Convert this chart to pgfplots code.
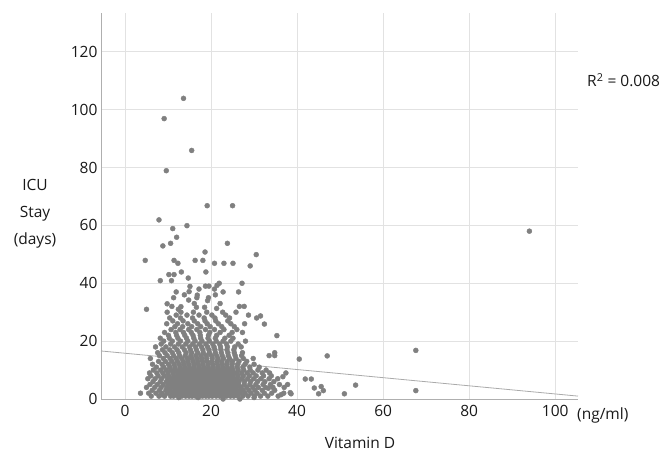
\documentclass[border=0pt]{standalone}
\usepackage{fontspec}
\setmainfont{Open Sans}
\usepackage{pgfplots}
\pgfplotsset{compat=1.18}
\definecolor{ptc}{RGB}{128,128,128}
\definecolor{gridc}{RGB}{226,226,226}
\definecolor{axc}{RGB}{175,175,175}
\definecolor{lnc}{RGB}{170,170,170}
\begin{document}
\begin{tikzpicture}[x=1pt,y=1pt]
\path[use as bounding box] (0,0) rectangle (668,452);
\begin{axis}[
  at={(101pt,53pt)}, anchor=south west,
  scale only axis, width=477pt, height=386pt,
  xmin=-5.58, xmax=105.3, ymin=0, ymax=133.4,
  axis x line*=bottom, axis y line*=left,
  axis line style={-, axc, line width=0.9pt},
  xtick={0,20,...,100}, ytick={0,20,...,120},
  major tick length=0pt,
  grid=major, major grid style={gridc, line width=0.9pt},
  tick label style={font=\fontsize{15.5}{18}\selectfont, text=black!90},
  /pgf/number format/assume math mode=true,
  xticklabel style={yshift=-3pt},
  clip=false,
]
\addplot[lnc, line width=0.8pt, no marks] coordinates {(-5.58,16.6) (105.3,1.0)};
\addplot[only marks, color=ptc, mark=*, mark size=2.5pt, mark options={draw=none, fill=ptc}] coordinates {
(6.1,1) (7.9,1) (9.2,1) (10.6,1) (11.3,1) (12.4,1) (13.2,1) (14.1,1) (14.9,1) (15.6,1) (16.4,1) (17.3,1) (18.0,1) (18.8,1) (19.5,1) (20.3,1) (21.2,1) (22.0,1) (22.9,1) (23.6,1) (24.5,1) (25.3,1) (26.2,1) (27.4,1) (28.6,1) (30.1,1) (31.5,1) (33.2,1) (35.6,1) (38.6,1.8)
(5.5,2) (7.2,2) (8.6,2) (9.8,2) (10.9,2) (11.8,2) (12.7,2) (13.5,2) (14.3,2) (15.2,2) (16.0,2) (16.9,2) (17.7,2) (18.5,2) (19.3,2) (20.1,2) (20.9,2) (21.7,2) (22.6,2) (23.4,2) (24.2,2) (25.1,2) (26.0,2) (26.8,2) (27.9,2) (29.3,2) (30.7,2) (32.4,2) (34.1,2) (36.9,2) (38.4,2.2) (45.0,1.8) (51.0,1.8) (3.6,2)
(6.3,3) (8.0,3) (9.5,3) (10.4,3) (11.5,3) (12.3,3) (13.0,3) (13.9,3) (14.7,3) (15.5,3) (16.3,3) (17.1,3) (18.2,3) (19.0,3) (19.9,3) (20.7,3) (21.4,3) (22.3,3) (23.2,3) (24.0,3) (24.9,3) (25.8,3) (26.6,3) (27.5,3) (28.8,3) (30.2,3) (31.9,3) (33.3,3.7) (34.8,3) (46.1,2.9) (67.6,2.9)
(5.0,4) (6.9,4) (8.4,4) (9.7,4) (10.8,4) (11.6,4) (12.5,4) (13.4,4) (14.2,4) (15.0,4) (15.8,4) (16.6,4) (17.5,4) (18.3,4) (19.2,4) (20.0,4) (20.8,4) (21.6,4) (22.5,4) (23.3,4) (24.1,4) (25.0,4) (25.9,4) (27.0,4) (28.3,4) (29.7,4) (31.0,4) (32.7,4) (34.4,4) (37.0,4) (44.0,3.8) (45.6,4.3)
(5.8,5) (7.5,5) (8.9,5) (10.1,5) (11.1,5) (12.1,5) (12.8,5) (13.7,5) (14.5,5) (15.4,5) (16.2,5) (17.0,5) (17.8,5) (18.6,5) (19.6,5) (20.4,5) (21.3,5) (22.1,5) (23.0,5) (23.8,5) (24.7,5) (25.5,5) (26.4,5) (27.7,5) (29.0,5) (30.4,5) (32.1,5) (33.8,5) (35.9,5) (37.8,5) (53.6,4.8)
(6.5,6) (8.2,6) (9.6,6) (10.5,6) (11.4,6) (12.2,6) (13.1,6) (14.0,6) (14.8,6) (15.7,6) (16.5,6) (17.2,6) (18.1,6) (18.9,6) (19.7,6) (20.5,6) (21.3,6) (22.2,6) (23.1,6) (23.9,6) (24.8,6) (25.6,6) (26.5,6) (27.8,6) (29.2,6) (30.8,6) (32.5,6) (34.6,6) (36.7,7.7)
(5.3,7) (7.0,7) (8.5,7) (9.9,7) (11.0,7) (12.0,7) (12.9,7) (13.8,7) (14.6,7) (15.3,7) (16.1,7) (17.0,7) (17.9,7) (18.7,7) (19.4,7) (20.2,7) (21.0,7) (21.9,7) (22.7,7) (23.5,7) (24.4,7) (25.2,7) (26.1,7) (27.2,7) (28.5,7) (29.9,7) (31.6,7) (33.5,7) (35.5,7) (41.9,6.9) (43.3,6.9)
(6.0,8) (7.7,8) (9.1,8) (10.2,8) (11.3,8) (12.3,8) (13.3,8) (14.2,8) (15.1,8) (15.9,8) (16.8,8) (17.6,8) (18.4,8) (19.2,8) (20.0,8) (20.9,8) (21.8,8) (22.6,8) (23.5,8) (24.3,8) (25.2,8) (26.3,8) (27.5,8) (28.9,8) (30.5,8) (32.2,8) (34.0,8)
(5.7,9) (7.4,9) (8.8,9) (10.0,9) (11.2,9) (12.2,9) (13.1,9) (14.0,9) (14.9,9) (15.7,9) (16.6,9) (17.4,9) (18.3,9) (19.1,9) (19.9,9) (20.8,9) (21.6,9) (22.4,9) (23.3,9) (24.2,9) (25.1,9) (26.0,9) (27.1,9) (28.4,9) (29.8,9) (31.9,9) (33.6,9) (37.4,9)
(6.6,10) (8.3,10) (9.6,10) (10.7,10) (11.7,10) (12.6,10) (13.5,10) (14.4,10) (15.3,10) (16.2,10) (17.1,10) (18.0,10) (18.9,10) (19.8,10) (20.6,10) (21.5,10) (22.4,10) (23.3,10) (24.2,10) (25.1,10) (26.3,10) (27.6,10) (29.1,10) (30.9,10) (32.8,10)
(7.3,11) (9.0,11) (10.4,11) (11.6,11) (12.8,11) (13.9,11) (15.0,11) (16.1,11) (17.2,11) (18.3,11) (19.4,11) (20.5,11) (21.6,11) (22.7,11) (23.8,11) (24.9,11) (26.1,11) (27.4,11) (29.0,11) (31.2,11)
(6.4,12) (8.6,12) (10.1,12) (11.4,12) (12.6,12) (13.7,12) (14.8,12) (16.0,12) (17.0,12) (18.1,12) (19.3,12) (20.4,12) (21.5,12) (22.6,12) (23.7,12) (24.9,12) (26.2,12) (27.9,12) (30.0,12)
(7.8,13) (9.4,13) (10.9,13) (12.2,13) (13.5,13) (14.6,13) (15.8,13) (16.9,13) (18.0,13) (19.1,13) (20.2,13) (21.4,13) (22.5,13) (23.8,13) (25.0,13) (26.5,13) (28.3,13)
(5.9,14) (8.9,14) (10.5,14) (11.9,14) (13.2,14) (14.5,14) (15.6,14) (16.8,14) (17.9,14) (19.0,14) (20.3,14) (21.6,14) (22.9,14) (24.3,14) (25.8,14) (27.5,14) (29.8,14) (40.5,13.8)
(8.0,15) (9.8,15) (11.3,15) (12.7,15) (14.0,15) (15.3,15) (16.5,15) (17.7,15) (18.9,15) (20.1,15) (21.3,15) (22.6,15) (24.0,15) (25.6,15) (27.1,15) (33.5,15) (34.8,15) (47.0,14.9)
(7.6,16) (9.3,16) (11.0,16) (12.5,16) (14.2,16) (15.5,16) (16.9,16) (18.2,16) (19.6,16) (21.0,16) (22.4,16) (23.9,16) (25.4,16) (27.3,16) (34.8,16)
(8.7,17) (10.4,17) (12.1,17) (13.8,17) (15.2,17) (16.6,17) (18.1,17) (19.5,17) (20.9,17) (22.3,17) (23.7,17) (25.3,17) (67.6,16.8)
(7.1,18) (9.5,18) (11.5,18) (13.3,18) (15.0,18) (16.4,18) (17.8,18) (19.2,18) (20.7,18) (22.2,18) (23.8,18) (25.5,18) (27.0,18)
(8.4,19) (10.6,19) (12.4,19) (14.1,19) (15.7,19) (17.3,19) (18.8,19) (20.4,19) (22.0,19) (23.6,19) (26.3,19)
(9.0,20) (11.0,20) (12.9,20) (14.6,20) (16.3,20) (17.9,20) (19.6,20) (21.2,20) (22.8,20) (24.6,20) (28.0,20)
(8.2,21) (10.3,21) (12.3,21) (14.3,21) (16.0,21) (17.6,21) (19.3,21) (21.0,21) (23.2,21) (25.1,21)
(10.1,22) (12.0,22) (13.9,22) (15.8,22) (17.5,22) (19.4,22) (21.3,22) (24.2,22) (35.3,21.9)
(9.2,23) (11.8,23) (13.6,23) (15.4,23) (17.4,23) (19.7,23) (22.1,23) (24.9,23) (27.3,23)
(10.7,24) (12.8,24) (14.8,24) (16.7,24) (18.7,24) (20.8,24) (23.0,24) (26.0,24)
(11.6,25) (13.4,25) (15.5,25) (17.6,25) (19.8,25) (22.5,25) (25.4,25) (32.4,25.9)
(9.7,26) (12.2,26) (14.6,26) (16.9,26) (19.1,26) (21.7,26) (24.6,26) (27.8,26)
(11.1,27) (13.5,27) (16.1,27) (18.6,27) (21.1,27) (23.9,27)
(10.4,28) (12.9,28) (15.7,28) (18.4,28) (20.9,28) (24.3,28) (30.6,28) (31.5,28.7) (28.7,29)
(11.9,29) (14.4,29) (17.2,29) (20.2,29) (23.4,29)
(9.8,30) (13.0,30) (15.9,30) (19.0,30) (22.7,30) (25.8,30)
(5.0,31) (12.4,31) (16.6,31.7) (21.3,31.3)
(10.9,32) (13.0,31.9) (18.5,31.7) (26.6,32) (27.7,32)
(9.8,32.9) (16.1,33) (22.1,33)
(14.8,34.2) (19.2,34)
(11.3,35) (16.7,35) (19.4,35)
(13.8,36) (16.8,35.9) (21.0,36)
(11.9,37) (14.9,37.1) (22.8,37) (26.4,37)
(20.8,38) (17.2,38)
(15.1,38.9) (18.7,39) (19.5,39) (21.4,39.3)
(21.9,40) (27.2,40)
(8.2,40.9) (10.8,40.9) (14.7,41.8)
(10.2,43) (11.4,43)
(13.1,43.9) (18.8,43.9)
(29.1,46)
(12.3,46.9) (20.8,46.9) (23.0,46.9) (25.1,46.9)
(4.7,47.9) (11.4,47.9) (16.3,47.9) (18.1,47.9)
(30.5,49.9) (18.6,50.8)
(8.8,52.9) (10.6,53.8) (23.8,53.8)
(12.0,55.9) (11.1,58.9) (14.4,59.9) (7.9,61.9)
(19.1,66.8) (25.0,66.8)
(9.6,78.9) (15.5,85.9) (9.1,96.9) (13.6,103.9)
(94.0,58)
(8.5,1.5) (22.8,0) (26.7,0) (12.5,0.5) (17.0,0.5) (30.0,0.5) (36.3,1.5)
};
\end{axis}
\node[align=center, font=\fontsize{15.5}{27}\selectfont, text=black!90, inner sep=0] at (35,238) {ICU\\Stay\\(days)};
\node[font=\fontsize{15.5}{18}\selectfont, text=black!90, inner sep=0] at (360,9) {Vitamin D};
\node[font=\fontsize{15.5}{18}\selectfont, text=black!90, inner sep=0, anchor=base west] at (577,33) {(ng/ml)};
\node[font=\fontsize{15.5}{18}\selectfont, text=black!90, inner sep=0, anchor=base west] at (587,365) {R\textsuperscript{2} = 0.008};
\end{tikzpicture}
\end{document}
